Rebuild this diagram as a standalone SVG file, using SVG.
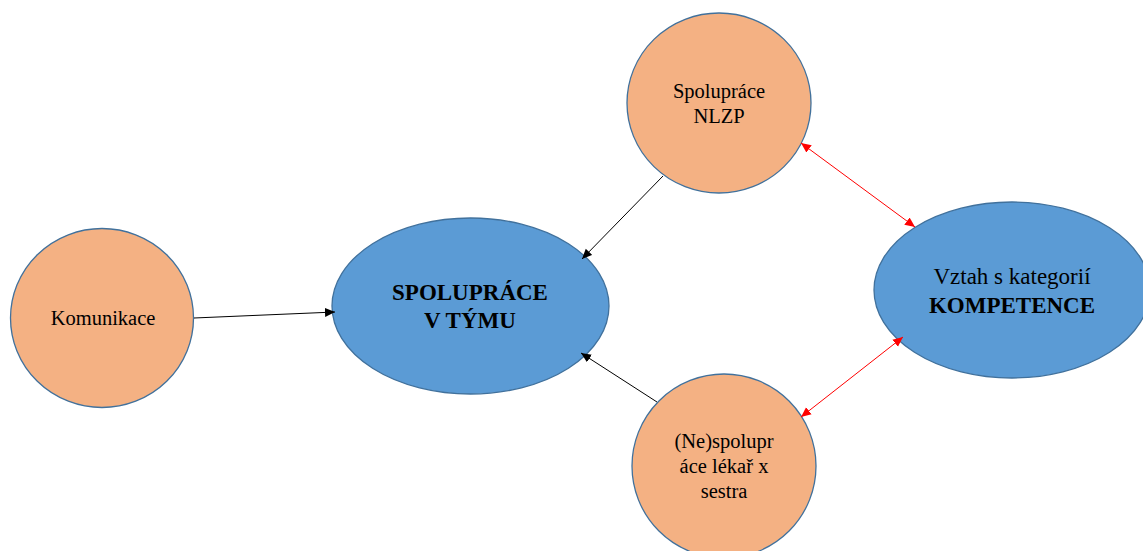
<svg xmlns="http://www.w3.org/2000/svg" width="1143" height="551" viewBox="0 0 1143 551">
<style>
.o{fill:#F4B183;stroke:#41719C;stroke-width:1.3}
.b{fill:#5B9BD5;stroke:#41719C;stroke-width:1.3}
text{font-family:'Liberation Serif','Times New Roman','DejaVu Serif',serif;fill:#000;text-anchor:middle}
.s{font-size:20.5px}
.l{font-size:23px}
.bd{font-weight:bold}
.k{stroke:#000;stroke-width:1;fill:none}
.r{stroke:#FF0000;stroke-width:1;fill:none}
</style>
<defs>
<marker id="ak" viewBox="0 0 10 10" refX="10" refY="5" markerWidth="10" markerHeight="10" markerUnits="userSpaceOnUse" orient="auto-start-reverse">
<path d="M0,0.5 L10,5 L0,9.5 z" fill="#000"/>
</marker>
<marker id="ar" viewBox="0 0 10 10" refX="10" refY="5" markerWidth="10" markerHeight="10" markerUnits="userSpaceOnUse" orient="auto-start-reverse">
<path d="M0,0.5 L10,5 L0,9.5 z" fill="#FF0000"/>
</marker>
</defs>
<g id="komunikace">
<ellipse class="o" cx="102" cy="318" rx="91.5" ry="89.5"/>
<text class="s" x="103" y="325">Komunikace</text>
</g>
<g id="spoluprace-tym">
<ellipse class="b" cx="470.5" cy="306" rx="138.5" ry="88"/>
<text class="l bd" x="470" y="300">SPOLUPRÁCE</text>
<text class="l bd" x="470" y="328">V TÝMU</text>
</g>
<g id="nlzp">
<ellipse class="o" cx="719" cy="103" rx="92" ry="90"/>
<text class="s" x="719" y="98">Spolupráce</text>
<text class="s" x="719" y="123">NLZP</text>
</g>
<g id="ne-spoluprace">
<ellipse class="o" cx="724" cy="466" rx="92" ry="92"/>
<text class="s" x="724" y="448">(Ne)spolupr</text>
<text class="s" x="724" y="473">áce lékař x</text>
<text class="s" x="724" y="498">sestra</text>
</g>
<g id="kompetence">
<ellipse class="b" cx="1012" cy="290" rx="138" ry="88"/>
<text class="l" x="1012" y="284">Vztah s kategorií</text>
<text class="l bd" x="1012" y="313">KOMPETENCE</text>
</g>
<g id="connectors">
<line class="k" x1="194" y1="318" x2="335" y2="312" marker-end="url(#ak)"/>
<line class="k" x1="663" y1="176" x2="582" y2="259" marker-end="url(#ak)"/>
<line class="k" x1="657" y1="402" x2="581" y2="353" marker-end="url(#ak)"/>
<line class="r" x1="801" y1="143" x2="915" y2="227" marker-start="url(#ar)" marker-end="url(#ar)"/>
<line class="r" x1="801" y1="417" x2="903" y2="337" marker-start="url(#ar)" marker-end="url(#ar)"/>
</g>
</svg>
